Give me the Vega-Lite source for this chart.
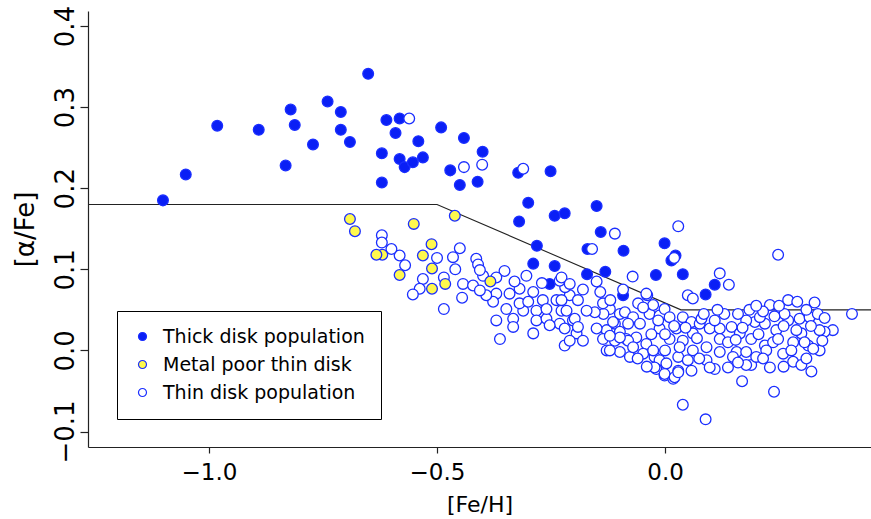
{
  "$schema": "https://vega.github.io/schema/vega-lite/v6.json",
  "width": 783,
  "height": 436,
  "autosize": {"type": "none"},
  "padding": {"left": 88, "top": 11, "right": 0, "bottom": 72},
  "background": "white",
  "config": {
    "view": {"stroke": null},
    "font": "DejaVu Sans",
    "axis": {"grid": false, "domainColor": "#222", "tickColor": "#222", "labelColor": "black", "titleColor": "black", "titleFontWeight": "normal", "labelFont": "DejaVu Sans", "titleFont": "DejaVu Sans", "labelFlush": false, "labelOverlap": false, "domainWidth": 1.2, "tickWidth": 1.2}
  },
  "datasets": {
    "stars": [
      {"feh": -1.101, "afe": 0.185, "pop": "Thick disk population"},
      {"feh": -1.051, "afe": 0.217, "pop": "Thick disk population"},
      {"feh": -0.982, "afe": 0.277, "pop": "Thick disk population"},
      {"feh": -0.891, "afe": 0.272, "pop": "Thick disk population"},
      {"feh": -0.821, "afe": 0.297, "pop": "Thick disk population"},
      {"feh": -0.812, "afe": 0.278, "pop": "Thick disk population"},
      {"feh": -0.832, "afe": 0.228, "pop": "Thick disk population"},
      {"feh": -0.772, "afe": 0.254, "pop": "Thick disk population"},
      {"feh": -0.740, "afe": 0.307, "pop": "Thick disk population"},
      {"feh": -0.711, "afe": 0.294, "pop": "Thick disk population"},
      {"feh": -0.711, "afe": 0.272, "pop": "Thick disk population"},
      {"feh": -0.691, "afe": 0.257, "pop": "Thick disk population"},
      {"feh": -0.651, "afe": 0.341, "pop": "Thick disk population"},
      {"feh": -0.611, "afe": 0.284, "pop": "Thick disk population"},
      {"feh": -0.582, "afe": 0.286, "pop": "Thick disk population"},
      {"feh": -0.591, "afe": 0.268, "pop": "Thick disk population"},
      {"feh": -0.621, "afe": 0.243, "pop": "Thick disk population"},
      {"feh": -0.541, "afe": 0.258, "pop": "Thick disk population"},
      {"feh": -0.582, "afe": 0.236, "pop": "Thick disk population"},
      {"feh": -0.571, "afe": 0.226, "pop": "Thick disk population"},
      {"feh": -0.553, "afe": 0.232, "pop": "Thick disk population"},
      {"feh": -0.531, "afe": 0.238, "pop": "Thick disk population"},
      {"feh": -0.621, "afe": 0.207, "pop": "Thick disk population"},
      {"feh": -0.491, "afe": 0.275, "pop": "Thick disk population"},
      {"feh": -0.441, "afe": 0.262, "pop": "Thick disk population"},
      {"feh": -0.400, "afe": 0.245, "pop": "Thick disk population"},
      {"feh": -0.471, "afe": 0.222, "pop": "Thick disk population"},
      {"feh": -0.450, "afe": 0.204, "pop": "Thick disk population"},
      {"feh": -0.411, "afe": 0.208, "pop": "Thick disk population"},
      {"feh": -0.322, "afe": 0.219, "pop": "Thick disk population"},
      {"feh": -0.251, "afe": 0.221, "pop": "Thick disk population"},
      {"feh": -0.300, "afe": 0.182, "pop": "Thick disk population"},
      {"feh": -0.320, "afe": 0.159, "pop": "Thick disk population"},
      {"feh": -0.242, "afe": 0.166, "pop": "Thick disk population"},
      {"feh": -0.220, "afe": 0.169, "pop": "Thick disk population"},
      {"feh": -0.281, "afe": 0.129, "pop": "Thick disk population"},
      {"feh": -0.150, "afe": 0.178, "pop": "Thick disk population"},
      {"feh": -0.141, "afe": 0.146, "pop": "Thick disk population"},
      {"feh": -0.170, "afe": 0.125, "pop": "Thick disk population"},
      {"feh": -0.091, "afe": 0.123, "pop": "Thick disk population"},
      {"feh": -0.001, "afe": 0.132, "pop": "Thick disk population"},
      {"feh": 0.014, "afe": 0.111, "pop": "Thick disk population"},
      {"feh": 0.023, "afe": 0.117, "pop": "Thick disk population"},
      {"feh": -0.171, "afe": 0.094, "pop": "Thick disk population"},
      {"feh": -0.131, "afe": 0.097, "pop": "Thick disk population"},
      {"feh": -0.020, "afe": 0.093, "pop": "Thick disk population"},
      {"feh": 0.039, "afe": 0.094, "pop": "Thick disk population"},
      {"feh": 0.109, "afe": 0.081, "pop": "Thick disk population"},
      {"feh": 0.089, "afe": 0.069, "pop": "Thick disk population"},
      {"feh": -0.092, "afe": 0.068, "pop": "Thick disk population"},
      {"feh": -0.289, "afe": 0.107, "pop": "Thick disk population"},
      {"feh": -0.242, "afe": 0.104, "pop": "Thick disk population"},
      {"feh": -0.253, "afe": 0.082, "pop": "Thick disk population"},
      {"feh": -0.561, "afe": 0.286, "pop": "Thin disk population"},
      {"feh": -0.401, "afe": 0.229, "pop": "Thin disk population"},
      {"feh": -0.441, "afe": 0.226, "pop": "Thin disk population"},
      {"feh": -0.311, "afe": 0.224, "pop": "Thin disk population"},
      {"feh": -0.621, "afe": 0.142, "pop": "Thin disk population"},
      {"feh": -0.621, "afe": 0.133, "pop": "Thin disk population"},
      {"feh": -0.450, "afe": 0.126, "pop": "Thin disk population"},
      {"feh": -0.110, "afe": 0.144, "pop": "Thin disk population"},
      {"feh": -0.160, "afe": 0.125, "pop": "Thin disk population"},
      {"feh": 0.029, "afe": 0.153, "pop": "Thin disk population"},
      {"feh": 0.248, "afe": 0.118, "pop": "Thin disk population"},
      {"feh": 0.020, "afe": 0.114, "pop": "Thin disk population"},
      {"feh": -0.071, "afe": 0.091, "pop": "Thin disk population"},
      {"feh": 0.120, "afe": 0.095, "pop": "Thin disk population"},
      {"feh": 0.140, "afe": 0.081, "pop": "Thin disk population"},
      {"feh": -0.092, "afe": 0.075, "pop": "Thin disk population"},
      {"feh": -0.142, "afe": 0.072, "pop": "Thin disk population"},
      {"feh": -0.039, "afe": 0.068, "pop": "Thin disk population"},
      {"feh": 0.050, "afe": 0.068, "pop": "Thin disk population"},
      {"feh": 0.061, "afe": 0.064, "pop": "Thin disk population"},
      {"feh": 0.230, "afe": 0.056, "pop": "Thin disk population"},
      {"feh": 0.270, "afe": 0.062, "pop": "Thin disk population"},
      {"feh": 0.290, "afe": 0.060, "pop": "Thin disk population"},
      {"feh": 0.328, "afe": 0.059, "pop": "Thin disk population"},
      {"feh": 0.410, "afe": 0.045, "pop": "Thin disk population"},
      {"feh": 0.039, "afe": -0.067, "pop": "Thin disk population"},
      {"feh": 0.089, "afe": -0.085, "pop": "Thin disk population"},
      {"feh": 0.169, "afe": -0.038, "pop": "Thin disk population"},
      {"feh": 0.239, "afe": -0.051, "pop": "Thin disk population"},
      {"feh": 0.368, "afe": 0.025, "pop": "Thin disk population"},
      {"feh": 0.350, "afe": 0.023, "pop": "Thin disk population"},
      {"feh": -0.582, "afe": 0.117, "pop": "Thin disk population"},
      {"feh": -0.500, "afe": 0.114, "pop": "Thin disk population"},
      {"feh": -0.531, "afe": 0.088, "pop": "Thin disk population"},
      {"feh": -0.485, "afe": 0.090, "pop": "Thin disk population"},
      {"feh": -0.538, "afe": 0.076, "pop": "Thin disk population"},
      {"feh": -0.553, "afe": 0.069, "pop": "Thin disk population"},
      {"feh": -0.485, "afe": 0.051, "pop": "Thin disk population"},
      {"feh": -0.414, "afe": 0.113, "pop": "Thin disk population"},
      {"feh": -0.410, "afe": 0.106, "pop": "Thin disk population"},
      {"feh": -0.443, "afe": 0.082, "pop": "Thin disk population"},
      {"feh": -0.421, "afe": 0.080, "pop": "Thin disk population"},
      {"feh": -0.399, "afe": 0.092, "pop": "Thin disk population"},
      {"feh": -0.406, "afe": 0.099, "pop": "Thin disk population"},
      {"feh": -0.352, "afe": 0.098, "pop": "Thin disk population"},
      {"feh": -0.370, "afe": 0.070, "pop": "Thin disk population"},
      {"feh": -0.341, "afe": 0.070, "pop": "Thin disk population"},
      {"feh": -0.319, "afe": 0.076, "pop": "Thin disk population"},
      {"feh": -0.304, "afe": 0.092, "pop": "Thin disk population"},
      {"feh": -0.289, "afe": 0.072, "pop": "Thin disk population"},
      {"feh": -0.268, "afe": 0.062, "pop": "Thin disk population"},
      {"feh": -0.238, "afe": 0.062, "pop": "Thin disk population"},
      {"feh": -0.209, "afe": 0.068, "pop": "Thin disk population"},
      {"feh": -0.219, "afe": 0.078, "pop": "Thin disk population"},
      {"feh": -0.377, "afe": 0.060, "pop": "Thin disk population"},
      {"feh": -0.348, "afe": 0.051, "pop": "Thin disk population"},
      {"feh": -0.311, "afe": 0.049, "pop": "Thin disk population"},
      {"feh": -0.282, "afe": 0.049, "pop": "Thin disk population"},
      {"feh": -0.370, "afe": 0.037, "pop": "Thin disk population"},
      {"feh": -0.282, "afe": 0.037, "pop": "Thin disk population"},
      {"feh": -0.260, "afe": 0.039, "pop": "Thin disk population"},
      {"feh": -0.231, "afe": 0.033, "pop": "Thin disk population"},
      {"feh": -0.202, "afe": 0.037, "pop": "Thin disk population"},
      {"feh": -0.362, "afe": 0.014, "pop": "Thin disk population"},
      {"feh": -0.289, "afe": 0.021, "pop": "Thin disk population"},
      {"feh": -0.220, "afe": 0.006, "pop": "Thin disk population"},
      {"feh": -0.194, "afe": 0.021, "pop": "Thin disk population"},
      {"feh": -0.231, "afe": 0.086, "pop": "Thin disk population"},
      {"feh": -0.333, "afe": 0.039, "pop": "Thin disk population"},
      {"feh": -0.319, "afe": 0.058, "pop": "Thin disk population"},
      {"feh": -0.260, "afe": 0.051, "pop": "Thin disk population"},
      {"feh": -0.227, "afe": 0.049, "pop": "Thin disk population"},
      {"feh": -0.392, "afe": 0.068, "pop": "Thin disk population"},
      {"feh": -0.209, "afe": 0.012, "pop": "Thin disk population"},
      {"feh": -0.253, "afe": 0.031, "pop": "Thin disk population"},
      {"feh": -0.333, "afe": 0.029, "pop": "Thin disk population"},
      {"feh": -0.406, "afe": 0.074, "pop": "Thin disk population"},
      {"feh": -0.041, "afe": 0.070, "pop": "Thin disk population"},
      {"feh": -0.121, "afe": 0.051, "pop": "Thin disk population"},
      {"feh": -0.135, "afe": 0.045, "pop": "Thin disk population"},
      {"feh": -0.099, "afe": 0.045, "pop": "Thin disk population"},
      {"feh": -0.088, "afe": 0.047, "pop": "Thin disk population"},
      {"feh": -0.070, "afe": 0.041, "pop": "Thin disk population"},
      {"feh": -0.110, "afe": 0.033, "pop": "Thin disk population"},
      {"feh": -0.128, "afe": 0.025, "pop": "Thin disk population"},
      {"feh": -0.081, "afe": 0.033, "pop": "Thin disk population"},
      {"feh": -0.055, "afe": 0.033, "pop": "Thin disk population"},
      {"feh": -0.034, "afe": 0.045, "pop": "Thin disk population"},
      {"feh": -0.012, "afe": 0.043, "pop": "Thin disk population"},
      {"feh": -0.001, "afe": 0.051, "pop": "Thin disk population"},
      {"feh": 0.010, "afe": 0.041, "pop": "Thin disk population"},
      {"feh": 0.039, "afe": 0.041, "pop": "Thin disk population"},
      {"feh": 0.058, "afe": 0.035, "pop": "Thin disk population"},
      {"feh": 0.076, "afe": 0.033, "pop": "Thin disk population"},
      {"feh": 0.098, "afe": 0.027, "pop": "Thin disk population"},
      {"feh": 0.120, "afe": 0.027, "pop": "Thin disk population"},
      {"feh": 0.146, "afe": 0.029, "pop": "Thin disk population"},
      {"feh": 0.164, "afe": 0.021, "pop": "Thin disk population"},
      {"feh": 0.189, "afe": 0.014, "pop": "Thin disk population"},
      {"feh": 0.197, "afe": 0.035, "pop": "Thin disk population"},
      {"feh": 0.219, "afe": 0.033, "pop": "Thin disk population"},
      {"feh": 0.244, "afe": 0.025, "pop": "Thin disk population"},
      {"feh": 0.270, "afe": 0.037, "pop": "Thin disk population"},
      {"feh": 0.295, "afe": 0.039, "pop": "Thin disk population"},
      {"feh": 0.317, "afe": 0.041, "pop": "Thin disk population"},
      {"feh": 0.339, "afe": 0.025, "pop": "Thin disk population"},
      {"feh": -0.110, "afe": 0.012, "pop": "Thin disk population"},
      {"feh": -0.085, "afe": 0.014, "pop": "Thin disk population"},
      {"feh": -0.063, "afe": 0.016, "pop": "Thin disk population"},
      {"feh": -0.012, "afe": 0.027, "pop": "Thin disk population"},
      {"feh": 0.010, "afe": 0.014, "pop": "Thin disk population"},
      {"feh": 0.039, "afe": 0.012, "pop": "Thin disk population"},
      {"feh": 0.061, "afe": 0.021, "pop": "Thin disk population"},
      {"feh": 0.091, "afe": 0.004, "pop": "Thin disk population"},
      {"feh": 0.120, "afe": 0.014, "pop": "Thin disk population"},
      {"feh": 0.138, "afe": 0.010, "pop": "Thin disk population"},
      {"feh": 0.157, "afe": -0.002, "pop": "Thin disk population"},
      {"feh": 0.178, "afe": -0.002, "pop": "Thin disk population"},
      {"feh": 0.219, "afe": 0.006, "pop": "Thin disk population"},
      {"feh": 0.237, "afe": 0.010, "pop": "Thin disk population"},
      {"feh": 0.259, "afe": -0.004, "pop": "Thin disk population"},
      {"feh": 0.281, "afe": 0.010, "pop": "Thin disk population"},
      {"feh": 0.299, "afe": 0.021, "pop": "Thin disk population"},
      {"feh": 0.314, "afe": 0.006, "pop": "Thin disk population"},
      {"feh": 0.339, "afe": 0.000, "pop": "Thin disk population"},
      {"feh": -0.128, "afe": 0.000, "pop": "Thin disk population"},
      {"feh": -0.099, "afe": -0.002, "pop": "Thin disk population"},
      {"feh": -0.077, "afe": -0.008, "pop": "Thin disk population"},
      {"feh": -0.023, "afe": -0.008, "pop": "Thin disk population"},
      {"feh": -0.012, "afe": -0.012, "pop": "Thin disk population"},
      {"feh": 0.003, "afe": -0.016, "pop": "Thin disk population"},
      {"feh": 0.029, "afe": -0.008, "pop": "Thin disk population"},
      {"feh": 0.058, "afe": -0.025, "pop": "Thin disk population"},
      {"feh": 0.029, "afe": -0.025, "pop": "Thin disk population"},
      {"feh": -0.001, "afe": -0.031, "pop": "Thin disk population"},
      {"feh": 0.018, "afe": -0.035, "pop": "Thin disk population"},
      {"feh": -0.019, "afe": -0.023, "pop": "Thin disk population"},
      {"feh": 0.091, "afe": -0.012, "pop": "Thin disk population"},
      {"feh": 0.109, "afe": -0.023, "pop": "Thin disk population"},
      {"feh": 0.138, "afe": -0.021, "pop": "Thin disk population"},
      {"feh": 0.189, "afe": -0.018, "pop": "Thin disk population"},
      {"feh": 0.230, "afe": -0.021, "pop": "Thin disk population"},
      {"feh": 0.281, "afe": -0.014, "pop": "Thin disk population"},
      {"feh": 0.299, "afe": -0.018, "pop": "Thin disk population"},
      {"feh": 0.321, "afe": -0.026, "pop": "Thin disk population"},
      {"feh": -0.227, "afe": 0.090, "pop": "Thin disk population"},
      {"feh": -0.209, "afe": 0.082, "pop": "Thin disk population"},
      {"feh": -0.227, "afe": 0.062, "pop": "Thin disk population"},
      {"feh": -0.191, "afe": 0.062, "pop": "Thin disk population"},
      {"feh": -0.216, "afe": 0.049, "pop": "Thin disk population"},
      {"feh": -0.198, "afe": 0.039, "pop": "Thin disk population"},
      {"feh": -0.220, "afe": 0.027, "pop": "Thin disk population"},
      {"feh": -0.191, "afe": 0.029, "pop": "Thin disk population"},
      {"feh": -0.180, "afe": 0.012, "pop": "Thin disk population"},
      {"feh": -0.154, "afe": 0.047, "pop": "Thin disk population"},
      {"feh": -0.150, "afe": 0.027, "pop": "Thin disk population"},
      {"feh": -0.136, "afe": 0.014, "pop": "Thin disk population"},
      {"feh": -0.114, "afe": 0.035, "pop": "Thin disk population"},
      {"feh": -0.099, "afe": 0.023, "pop": "Thin disk population"},
      {"feh": -0.081, "afe": 0.012, "pop": "Thin disk population"},
      {"feh": -0.121, "afe": 0.000, "pop": "Thin disk population"},
      {"feh": -0.023, "afe": -0.021, "pop": "Thin disk population"},
      {"feh": -0.001, "afe": -0.029, "pop": "Thin disk population"},
      {"feh": 0.021, "afe": -0.033, "pop": "Thin disk population"},
      {"feh": 0.029, "afe": -0.027, "pop": "Thin disk population"},
      {"feh": -0.059, "afe": 0.058, "pop": "Thin disk population"},
      {"feh": -0.026, "afe": 0.056, "pop": "Thin disk population"},
      {"feh": -0.015, "afe": 0.037, "pop": "Thin disk population"},
      {"feh": 0.025, "afe": 0.027, "pop": "Thin disk population"},
      {"feh": 0.080, "afe": 0.039, "pop": "Thin disk population"},
      {"feh": 0.109, "afe": 0.037, "pop": "Thin disk population"},
      {"feh": 0.178, "afe": 0.037, "pop": "Thin disk population"},
      {"feh": 0.208, "afe": 0.041, "pop": "Thin disk population"},
      {"feh": 0.248, "afe": 0.014, "pop": "Thin disk population"},
      {"feh": 0.262, "afe": 0.045, "pop": "Thin disk population"},
      {"feh": 0.288, "afe": 0.025, "pop": "Thin disk population"},
      {"feh": 0.306, "afe": 0.010, "pop": "Thin disk population"},
      {"feh": 0.325, "afe": 0.002, "pop": "Thin disk population"},
      {"feh": 0.277, "afe": 0.000, "pop": "Thin disk population"},
      {"feh": 0.222, "afe": 0.000, "pop": "Thin disk population"},
      {"feh": 0.200, "afe": -0.008, "pop": "Thin disk population"},
      {"feh": 0.149, "afe": -0.008, "pop": "Thin disk population"},
      {"feh": 0.120, "afe": -0.002, "pop": "Thin disk population"},
      {"feh": 0.061, "afe": 0.000, "pop": "Thin disk population"},
      {"feh": 0.032, "afe": 0.004, "pop": "Thin disk population"},
      {"feh": -0.041, "afe": 0.008, "pop": "Thin disk population"},
      {"feh": -0.070, "afe": 0.004, "pop": "Thin disk population"},
      {"feh": -0.048, "afe": -0.004, "pop": "Thin disk population"},
      {"feh": -0.026, "afe": 0.000, "pop": "Thin disk population"},
      {"feh": 0.098, "afe": -0.021, "pop": "Thin disk population"},
      {"feh": 0.178, "afe": -0.018, "pop": "Thin disk population"},
      {"feh": -0.099, "afe": 0.016, "pop": "Thin disk population"},
      {"feh": -0.121, "afe": 0.018, "pop": "Thin disk population"},
      {"feh": -0.172, "afe": 0.049, "pop": "Thin disk population"},
      {"feh": -0.136, "afe": 0.058, "pop": "Thin disk population"},
      {"feh": -0.048, "afe": 0.053, "pop": "Thin disk population"},
      {"feh": 0.160, "afe": 0.045, "pop": "Thin disk population"},
      {"feh": 0.185, "afe": 0.050, "pop": "Thin disk population"},
      {"feh": 0.215, "afe": 0.048, "pop": "Thin disk population"},
      {"feh": 0.240, "afe": 0.042, "pop": "Thin disk population"},
      {"feh": 0.310, "afe": 0.050, "pop": "Thin disk population"},
      {"feh": 0.335, "afe": 0.045, "pop": "Thin disk population"},
      {"feh": 0.250, "afe": 0.055, "pop": "Thin disk population"},
      {"feh": 0.200, "afe": 0.055, "pop": "Thin disk population"},
      {"feh": 0.000, "afe": 0.020, "pop": "Thin disk population"},
      {"feh": 0.045, "afe": 0.028, "pop": "Thin disk population"},
      {"feh": 0.070, "afe": 0.015, "pop": "Thin disk population"},
      {"feh": 0.085, "afe": 0.045, "pop": "Thin disk population"},
      {"feh": 0.130, "afe": 0.045, "pop": "Thin disk population"},
      {"feh": 0.115, "afe": 0.050, "pop": "Thin disk population"},
      {"feh": 0.020, "afe": 0.030, "pop": "Thin disk population"},
      {"feh": -0.030, "afe": 0.020, "pop": "Thin disk population"},
      {"feh": 0.155, "afe": 0.013, "pop": "Thin disk population"},
      {"feh": 0.170, "afe": 0.028, "pop": "Thin disk population"},
      {"feh": 0.205, "afe": 0.020, "pop": "Thin disk population"},
      {"feh": 0.260, "afe": 0.030, "pop": "Thin disk population"},
      {"feh": 0.320, "afe": 0.030, "pop": "Thin disk population"},
      {"feh": 0.345, "afe": 0.012, "pop": "Thin disk population"},
      {"feh": 0.350, "afe": 0.040, "pop": "Thin disk population"},
      {"feh": 0.075, "afe": -0.010, "pop": "Thin disk population"},
      {"feh": 0.050, "afe": -0.012, "pop": "Thin disk population"},
      {"feh": 0.160, "afe": -0.015, "pop": "Thin disk population"},
      {"feh": 0.215, "afe": -0.010, "pop": "Thin disk population"},
      {"feh": 0.260, "afe": -0.020, "pop": "Thin disk population"},
      {"feh": 0.310, "afe": -0.010, "pop": "Thin disk population"},
      {"feh": -0.060, "afe": -0.010, "pop": "Thin disk population"},
      {"feh": -0.040, "afe": -0.020, "pop": "Thin disk population"},
      {"feh": 0.000, "afe": 0.000, "pop": "Thin disk population"},
      {"feh": -0.330, "afe": 0.085, "pop": "Thin disk population"},
      {"feh": -0.270, "afe": 0.083, "pop": "Thin disk population"},
      {"feh": -0.180, "afe": 0.075, "pop": "Thin disk population"},
      {"feh": -0.150, "afe": 0.085, "pop": "Thin disk population"},
      {"feh": -0.120, "afe": 0.062, "pop": "Thin disk population"},
      {"feh": -0.300, "afe": 0.060, "pop": "Thin disk population"},
      {"feh": -0.370, "afe": 0.090, "pop": "Thin disk population"},
      {"feh": -0.460, "afe": 0.100, "pop": "Thin disk population"},
      {"feh": -0.445, "afe": 0.065, "pop": "Thin disk population"},
      {"feh": -0.570, "afe": 0.105, "pop": "Thin disk population"},
      {"feh": -0.600, "afe": 0.125, "pop": "Thin disk population"},
      {"feh": -0.465, "afe": 0.115, "pop": "Thin disk population"},
      {"feh": -0.691, "afe": 0.162, "pop": "Metal poor thin disk"},
      {"feh": -0.680, "afe": 0.147, "pop": "Metal poor thin disk"},
      {"feh": -0.551, "afe": 0.156, "pop": "Metal poor thin disk"},
      {"feh": -0.461, "afe": 0.166, "pop": "Metal poor thin disk"},
      {"feh": -0.512, "afe": 0.131, "pop": "Metal poor thin disk"},
      {"feh": -0.620, "afe": 0.118, "pop": "Metal poor thin disk"},
      {"feh": -0.633, "afe": 0.118, "pop": "Metal poor thin disk"},
      {"feh": -0.531, "afe": 0.117, "pop": "Metal poor thin disk"},
      {"feh": -0.511, "afe": 0.101, "pop": "Metal poor thin disk"},
      {"feh": -0.582, "afe": 0.093, "pop": "Metal poor thin disk"},
      {"feh": -0.482, "afe": 0.082, "pop": "Metal poor thin disk"},
      {"feh": -0.511, "afe": 0.076, "pop": "Metal poor thin disk"},
      {"feh": -0.383, "afe": 0.085, "pop": "Metal poor thin disk"}
    ],
    "boundary": [
      {"feh": -1.4, "afe": 0.18},
      {"feh": -0.5, "afe": 0.18},
      {"feh": 0.035, "afe": 0.05},
      {"feh": 0.6, "afe": 0.05}
    ]
  },
  "encoding": {
    "x": {
      "field": "feh", "type": "quantitative",
      "scale": {"domain": [-1.2654, 0.4517], "nice": false, "zero": false},
      "axis": {"values": [-1, -0.5, 0], "title": "[Fe/H]", "labelExpr": "replace(format(datum.value, '.1f'), '-', '−')", "labelFontSize": 23, "titleFontSize": 22, "tickSize": 6, "labelPadding": 8, "titlePadding": 10}
    },
    "y": {
      "field": "afe", "type": "quantitative",
      "scale": {"domain": [-0.1191, 0.4185], "nice": false, "zero": false},
      "axis": {"values": [-0.1, 0, 0.1, 0.2, 0.3, 0.4], "title": "[α/Fe]", "labelExpr": "replace(format(datum.value, '.1f'), '-', '−')", "labelFontSize": 26, "labelAngle": 270, "labelAlign": "center", "labelBaseline": "alphabetic", "tickSize": 8, "labelPadding": 7, "titleFontSize": 26, "titlePadding": 14}
    }
  },
  "layer": [
    {
      "data": {"name": "boundary"},
      "mark": {"type": "line", "color": "#222", "strokeWidth": 1.1, "clip": true}
    },
    {
      "data": {"name": "stars"},
      "mark": {"type": "point", "filled": true, "shape": "circle", "size": 115, "stroke": "#1a2eff", "strokeWidth": 1.3, "opacity": 1},
      "encoding": {
        "fill": {
          "field": "pop", "type": "nominal",
          "scale": {"domain": ["Thick disk population", "Metal poor thin disk", "Thin disk population"], "range": ["#0a1ff5", "#fff94d", "#ffffff"]},
          "legend": {"title": null, "orient": "none", "legendX": 29, "legendY": 300, "strokeColor": "black", "fillColor": "white", "padding": 16, "symbolType": "circle", "symbolSize": 64, "symbolStrokeColor": "#1a2eff", "symbolStrokeWidth": 1.2, "symbolOpacity": 1, "labelFontSize": 19, "labelFont": "DejaVu Sans", "labelColor": "black", "labelLimit": 500, "rowPadding": 8, "labelOffset": 11, "cornerRadius": 0}
        }
      }
    },
    {
      "data": {"values": [{}]},
      "mark": {"type": "rule", "color": "#222", "strokeWidth": 1.2},
      "encoding": {"x": null, "y": {"datum": 0.4185}}
    }
  ]
}
